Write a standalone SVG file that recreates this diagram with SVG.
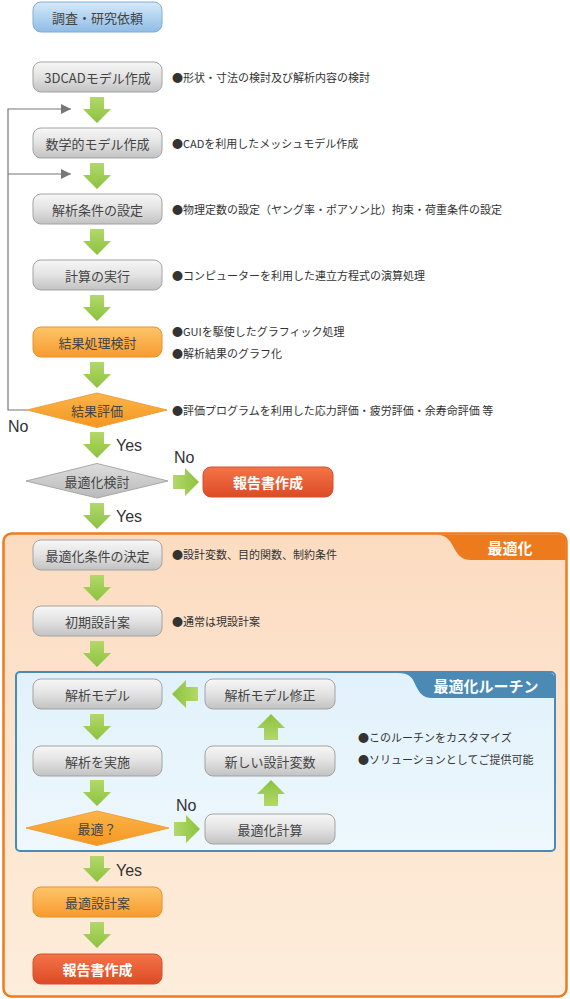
<svg xmlns="http://www.w3.org/2000/svg" width="570" height="999" viewBox="0 0 570 999">
<defs>
<linearGradient id="gGray" x1="0" y1="0" x2="0" y2="1"><stop offset="0" stop-color="#f7f7f7"/><stop offset="0.5" stop-color="#e2e2e2"/><stop offset="1" stop-color="#c2c2c2"/></linearGradient>
<linearGradient id="gBlue" x1="0" y1="0" x2="0" y2="1"><stop offset="0" stop-color="#d6e9f9"/><stop offset="1" stop-color="#8fbce6"/></linearGradient>
<linearGradient id="gOrange" x1="0" y1="0" x2="0" y2="1"><stop offset="0" stop-color="#fdc56a"/><stop offset="1" stop-color="#f79a2e"/></linearGradient>
<linearGradient id="gRed" x1="0" y1="0" x2="0" y2="1"><stop offset="0" stop-color="#f47448"/><stop offset="1" stop-color="#dc4b25"/></linearGradient>
<linearGradient id="gDiaO" x1="0" y1="0" x2="0" y2="1"><stop offset="0" stop-color="#fbb54a"/><stop offset="1" stop-color="#f5961f"/></linearGradient>
<linearGradient id="gDiaG" x1="0" y1="0" x2="0" y2="1"><stop offset="0" stop-color="#dedede"/><stop offset="1" stop-color="#b9b9b9"/></linearGradient>
<linearGradient id="gArrow" x1="0" y1="0" x2="0" y2="1"><stop offset="0" stop-color="#b3d86a"/><stop offset="1" stop-color="#8cc23e"/></linearGradient>
<linearGradient id="gOpt" x1="0" y1="0" x2="0" y2="1"><stop offset="0" stop-color="#fcdcc1"/><stop offset="1" stop-color="#fdeddb"/></linearGradient>
<linearGradient id="gRoutine" x1="0" y1="0" x2="0" y2="1"><stop offset="0" stop-color="#e1f1fb"/><stop offset="1" stop-color="#eef8fd"/></linearGradient>
<path id="arr" d="M-7,0 H7 V12 H14 L0,26 L-14,12 H-7 Z"/>
<marker id="tri" viewBox="0 0 10 10" refX="10" refY="5" markerWidth="10" markerHeight="10" markerUnits="userSpaceOnUse" orient="auto"><path d="M0,0 L10,5 L0,10 Z" fill="#777"/></marker>
</defs>
<style>
.gray{fill:url(#gGray);stroke:#a3a3a3;stroke-width:1}
.blue{fill:url(#gBlue);stroke:#80acd6;stroke-width:1}
.orange{fill:url(#gOrange);stroke:#eb9128;stroke-width:1}
.red{fill:url(#gRed);stroke:#d5502c;stroke-width:1}
.diaO{fill:url(#gDiaO);stroke:#f0a040;stroke-width:1}
.diaG{fill:url(#gDiaG);stroke:#a8a8a8;stroke-width:1}
.arrow{fill:url(#gArrow)}
.t{font-family:"Noto Sans CJK JP","Noto Sans",sans-serif;font-size:13px;fill:#444;text-anchor:middle;dominant-baseline:central}
.tw{font-family:"Noto Sans CJK JP","Noto Sans",sans-serif;font-size:14px;font-weight:bold;fill:#fff;text-anchor:middle;dominant-baseline:central}
.tab{font-family:"Noto Sans CJK JP","Noto Sans",sans-serif;font-size:15px;font-weight:bold;fill:#fff;text-anchor:middle;dominant-baseline:central}
.note{font-family:"Noto Sans CJK JP","Noto Sans",sans-serif;font-size:11px;fill:#333;dominant-baseline:central}
.yn{font-family:"Liberation Sans",Arial,sans-serif;font-size:16px;fill:#333}
.loop{fill:none;stroke:#777;stroke-width:1.2}
</style>
<rect width="570" height="999" fill="#fff"/>

<g id="optimization-container">
<rect x="3.5" y="533.5" width="563" height="463" rx="8" fill="url(#gOpt)" stroke="#ee7b1f" stroke-width="2.5"/>
<path d="M435,534.7 C446,534.7 449,539 453,546 C457,554 461,560 471,560 H565.7 V542 Q565.7,534.7 558,534.7 Z" fill="#ee7a1e"/>
<text class="tab" x="510" y="547">最適化</text>
</g>

<g id="routine-container">
<rect x="16" y="672" width="539" height="179" rx="4" fill="url(#gRoutine)" stroke="#4a8ab5" stroke-width="2"/>
<path d="M398,673 C409,673 412,677 415,684 C419,692 422,698 432,698 H554 V677 Q554,673 550,673 Z" fill="#4a8ab5"/>
<text class="tab" x="486" y="685">最適化ルーチン</text>
</g>

<g id="connectors">
<path class="loop" d="M27,410 H8 V109 H71" marker-end="url(#tri)"/>
<path class="loop" d="M8,174 H71" marker-end="url(#tri)"/>
<use href="#arr" class="arrow" x="97" y="97"/>
<use href="#arr" class="arrow" x="97" y="163"/>
<use href="#arr" class="arrow" x="97" y="229"/>
<use href="#arr" class="arrow" x="97" y="295"/>
<use href="#arr" class="arrow" x="97" y="362"/>
<use href="#arr" class="arrow" x="97" y="432"/>
<use href="#arr" class="arrow" x="97" y="503"/>
<use href="#arr" class="arrow" x="97" y="575"/>
<use href="#arr" class="arrow" x="97" y="641"/>
<use href="#arr" class="arrow" x="97" y="714"/>
<use href="#arr" class="arrow" x="97" y="780"/>
<use href="#arr" class="arrow" x="97" y="856"/>
<use href="#arr" class="arrow" x="97" y="922"/>
<use href="#arr" class="arrow" transform="translate(271,740) rotate(180)"/>
<use href="#arr" class="arrow" transform="translate(271,806) rotate(180)"/>
<use href="#arr" class="arrow" transform="translate(173,482) rotate(-90)"/>
<use href="#arr" class="arrow" transform="translate(174,829) rotate(-90)"/>
<use href="#arr" class="arrow" transform="translate(198,694) rotate(90)"/>
<text class="yn" x="8" y="432">No</text>
<text class="yn" x="116" y="451">Yes</text>
<text class="yn" x="174" y="463">No</text>
<text class="yn" x="116" y="522">Yes</text>
<text class="yn" x="176" y="811">No</text>
<text class="yn" x="116" y="876">Yes</text>
</g>

<g id="n-request"><rect class="blue" x="33" y="2" width="129" height="30" rx="8"/><text class="t" x="97.5" y="17">調査・研究依頼</text></g>
<g id="n-3dcad"><rect class="gray" x="33" y="62" width="129" height="30" rx="8"/><text class="t" x="97.5" y="77">3DCADモデル作成</text><text class="note" x="172" y="77">●形状・寸法の検討及び解析内容の検討</text></g>
<g id="n-math"><rect class="gray" x="33" y="128" width="129" height="30" rx="8"/><text class="t" x="97.5" y="143">数学的モデル作成</text><text class="note" x="172" y="143">●CADを利用したメッシュモデル作成</text></g>
<g id="n-cond"><rect class="gray" x="33" y="194" width="129" height="30" rx="8"/><text class="t" x="97.5" y="209">解析条件の設定</text><text class="note" x="172" y="209">●物理定数の設定（ヤング率・ポアソン比）拘束・荷重条件の設定</text></g>
<g id="n-calc"><rect class="gray" x="33" y="260" width="129" height="30" rx="8"/><text class="t" x="97.5" y="275">計算の実行</text><text class="note" x="172" y="275">●コンピューターを利用した連立方程式の演算処理</text></g>
<g id="n-result"><rect class="orange" x="33" y="327" width="129" height="30" rx="8"/><text class="t" x="97.5" y="342">結果処理検討</text><text class="note" x="172" y="331">●GUIを駆使したグラフィック処理</text><text class="note" x="172" y="353">●解析結果のグラフ化</text></g>
<g id="n-eval"><polygon class="diaO" points="27,410 97,393 167,410 97,427.5"/><text class="t" x="97" y="410">結果評価</text><text class="note" x="172" y="410">●評価プログラムを利用した応力評価・疲労評価・余寿命評価 等</text></g>
<g id="n-optcheck"><polygon class="diaG" points="26,481 97,463.5 168,481 97,498"/><text class="t" x="97" y="481">最適化検討</text></g>
<g id="n-report1"><rect class="red" x="203" y="467" width="130" height="30" rx="8"/><text class="tw" x="268" y="482">報告書作成</text></g>
<g id="n-optcond"><rect class="gray" x="33" y="540" width="129" height="30" rx="8"/><text class="t" x="97.5" y="555">最適化条件の決定</text><text class="note" x="172" y="554">●設計変数、目的関数、制約条件</text></g>
<g id="n-initial"><rect class="gray" x="33" y="606" width="129" height="30" rx="8"/><text class="t" x="97.5" y="621">初期設計案</text><text class="note" x="172" y="621">●通常は現設計案</text></g>
<g id="n-model"><rect class="gray" x="33" y="679" width="129" height="30" rx="8"/><text class="t" x="97.5" y="694">解析モデル</text></g>
<g id="n-modfix"><rect class="gray" x="205" y="679" width="130" height="30" rx="8"/><text class="t" x="270" y="694">解析モデル修正</text></g>
<g id="n-run"><rect class="gray" x="33" y="746" width="129" height="30" rx="8"/><text class="t" x="97.5" y="761">解析を実施</text></g>
<g id="n-newvar"><rect class="gray" x="205" y="746" width="130" height="30" rx="8"/><text class="t" x="270" y="761">新しい設計変数</text></g>
<g id="n-optq"><polygon class="diaO" points="26,828 97,811 169,828 97,845.5"/><text class="t" x="97" y="828">最適？</text></g>
<g id="n-optcalc"><rect class="gray" x="205" y="814" width="130" height="30" rx="8"/><text class="t" x="270" y="829">最適化計算</text></g>
<g id="n-routine-notes"><text class="note" x="358" y="737">●このルーチンをカスタマイズ</text><text class="note" x="358" y="759">●ソリューションとしてご提供可能</text></g>
<g id="n-best"><rect class="orange" x="33" y="887" width="129" height="30" rx="8"/><text class="t" x="97.5" y="902">最適設計案</text></g>
<g id="n-report2"><rect class="red" x="33" y="954" width="129" height="30" rx="8"/><text class="tw" x="97.5" y="969">報告書作成</text></g>
</svg>
